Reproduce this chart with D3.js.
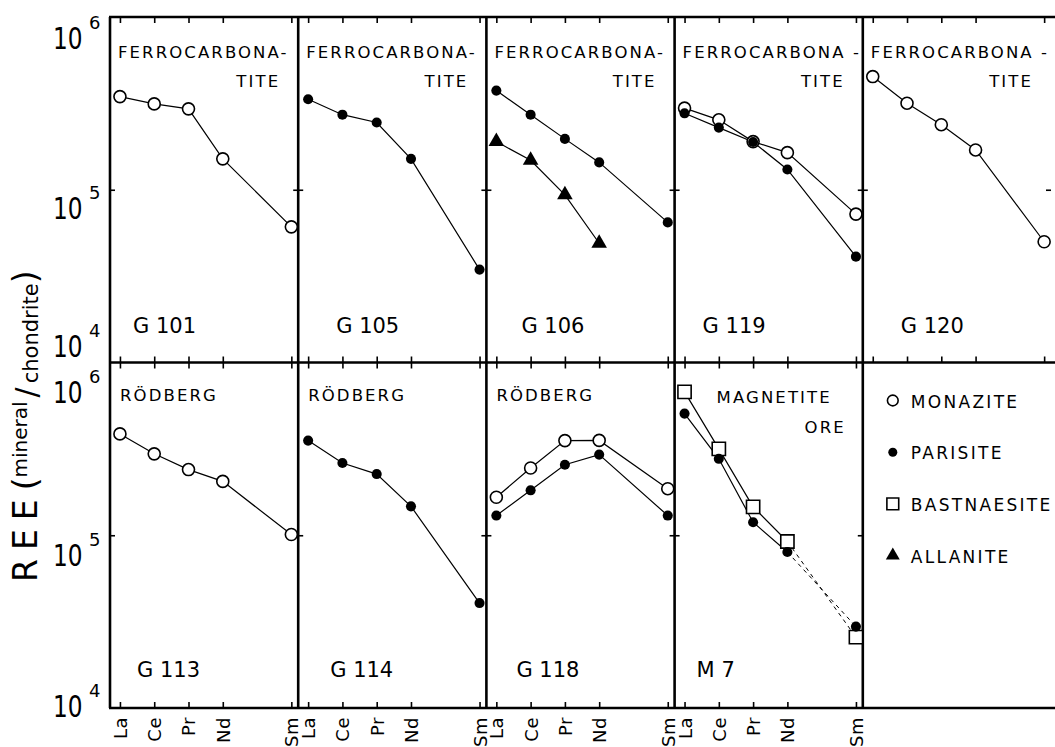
<!DOCTYPE html>
<html>
<head>
<meta charset="utf-8">
<script src="https://cdn.jsdelivr.net/npm/d3@7"></script>
<style>
  body { margin: 0; background: #fff; }
  svg text { font-family: "DejaVu Sans", sans-serif; fill: #000; }
</style>
</head>
<body>
<svg id="chart" width="1055" height="747"></svg>
<script>
// REE along the x axis; Pm is not measured, so Sm sits one step further on
var elements = ["La", "Ce", "Pr", "Nd", "Sm"];
var atomicNumbers = [57, 58, 59, 60, 62];

var sampleNames = ["G 101", "G 105", "G 106", "G 119", "G 120", "G 113", "G 114", "G 118", "M 7"];
var rockTypes = [
	["FERROCARBONA-", "TITE"], ["FERROCARBONA-", "TITE"], ["FERROCARBONA-", "TITE"],
	["FERROCARBONA -", "TITE"], ["FERROCARBONA -", "TITE"],
	["RÖDBERG"], ["RÖDBERG"], ["RÖDBERG"], ["MAGNETITE", "ORE"]
];
var mineralNames = ["MONAZITE", "PARISITE", "BASTNAESITE", "ALLANITE"];

// REE (mineral / chondrite)
var g101Monazite = [346000, 314000, 294000, 151000, 61000];
var g105Parisite = [334000, 272000, 245000, 151000, 34500];
var g106Parisite = [375000, 272000, 197000, 144000, 64700];
var g106Allanite = [190000, 148000, 93500, 49000];
var g119Monazite = [297000, 254000, 190000, 164000, 72300];
var g119Parisite = [277000, 229000, 189000, 131000, 41000];
var g120Monazite = [452000, 317000, 238000, 170000, 50000];
var g113Monazite = [386000, 296000, 240000, 205000, 101000];
var g114Parisite = [353000, 262000, 226000, 147000, 40500];
var g118Monazite = [166000, 245000, 353000, 354000, 186000];
var g118Parisite = [130000, 182000, 256000, 293000, 130000];
var m7Bastnaesite = [676000, 316000, 146000, 92000, 25700];
var m7Parisite = [506000, 277000, 119000, 80000, 29600];

var tickValues = [1e4, 1e5, 1e6];
var tickExponents = ["4", "5", "6"];

var panels = [
	{ series: [["MONAZITE", g101Monazite]] },
	{ series: [["PARISITE", g105Parisite]] },
	{ series: [["PARISITE", g106Parisite], ["ALLANITE", g106Allanite]] },
	{ series: [["MONAZITE", g119Monazite], ["PARISITE", g119Parisite]] },
	{ series: [["MONAZITE", g120Monazite]] },
	{ series: [["MONAZITE", g113Monazite]] },
	{ series: [["PARISITE", g114Parisite]] },
	{ series: [["MONAZITE", g118Monazite], ["PARISITE", g118Parisite]] },
	{ series: [["BASTNAESITE", m7Bastnaesite], ["PARISITE", m7Parisite]], dashedTail: true }
];

// layout
var plotLeft = 110, plotTop = 17, rowHeight = 345.5, colWidth = 188.2, plotRight = 1055;
var sampleDx = [23, 38, 35, 28, 38, 27, 32, 30, 22];
var tickLabelDy = [[-6, 29, 32], [9, 31, 40]];

var svg = d3.select("#chart");

var colX = function(c) { return plotLeft + c * colWidth; };
var rowY = function(r) { return plotTop + r * rowHeight; };

var x = d3.scaleLinear().domain([56.71, 62.2]).range([0, colWidth]);
var y = d3.scaleLog().domain([1e4, 1e6]).range([rowHeight, 0]);

var markerShape = {
	MONAZITE: { type: d3.symbolCircle, size: 113, fill: "#fff" },
	PARISITE: { type: d3.symbolCircle, size: 80, fill: "#000" },
	BASTNAESITE: { type: d3.symbolSquare, size: 175, fill: "#fff" },
	ALLANITE: { type: d3.symbolTriangle, size: 105, fill: "#000" }
};

function addMarker(sel, mineral, scale) {
	var m = markerShape[mineral];
	return sel.append("path")
		.attr("d", d3.symbol().type(m.type).size(m.size * (scale || 1)))
		.attr("fill", m.fill)
		.attr("stroke", "#000")
		.attr("stroke-width", m.fill == "#fff" ? 1.6 : 0);
}

//frame lines
var frame = svg.append("g").attr("stroke", "#000").attr("stroke-width", 2.6);
[0, 1, 2].forEach(function(r) {
	frame.append("line").attr("x1", plotLeft - 1).attr("x2", plotRight)
		.attr("y1", rowY(r)).attr("y2", rowY(r));
});
[0, 1, 2, 3, 4].forEach(function(c) {
	frame.append("line").attr("x1", colX(c)).attr("x2", colX(c))
		.attr("y1", plotTop).attr("y2", rowY(2));
});

var line = d3.line()
	.x(function(d) { return x(d.z); })
	.y(function(d) { return y(d.v); });

var headFont = "16.5px", headSpacing = "2.1px";

panels.forEach(function(p, i) {
	var row = i < 5 ? 0 : 1, col = i < 5 ? i : i - 5;
	var g = svg.append("g").attr("transform", "translate(" + colX(col) + "," + rowY(row) + ")");

	// ticks, no domain lines (frame draws those)
	var ticks = g.append("g").attr("class", "ticks");
	ticks.append("g").call(d3.axisBottom(x).tickValues(atomicNumbers).tickSize(6).tickFormat(""));
	ticks.append("g").attr("transform", "translate(0," + rowHeight + ")")
		.call(d3.axisTop(x).tickValues(atomicNumbers).tickSize(6).tickFormat(""));
	ticks.append("g").call(d3.axisRight(y).tickValues([1e5]).tickSize(5).tickFormat(""));
	ticks.append("g").attr("transform", "translate(" + colWidth + ",0)")
		.call(d3.axisLeft(y).tickValues([1e5]).tickSize(5).tickFormat(""));
	ticks.selectAll(".domain").remove();
	ticks.selectAll("line").attr("stroke", "#000").attr("stroke-width", 1.6);

	if (row == 1) {
		g.append("g").attr("transform", "translate(0," + rowHeight + ")")
			.call(d3.axisBottom(x).tickValues(atomicNumbers).tickSize(0)
				.tickFormat(function(d, k) { return elements[k]; }))
			.call(function(a) { a.select(".domain").remove(); })
		  .selectAll("text")
			.attr("transform", "rotate(-90)")
			.attr("x", -9)
			.attr("y", 0)
			.attr("dy", "0.36em")
			.style("text-anchor", "end")
			.style("font-size", "18px")
			.style("letter-spacing", "0.5px");
	}

	// rock type heading
	var rock = rockTypes[i];
	var head = function(tx, ty, s, anchor) {
		g.append("text").attr("x", tx).attr("y", ty)
			.attr("text-anchor", anchor || "start")
			.style("font-size", headFont).style("letter-spacing", headSpacing).text(s);
	};
	if (row == 0) {
		head(8, 41, rock[0]);
		head(colWidth - 18, 70, rock[1], "end");
	} else if (rock.length == 1) {
		head(10, 38, rock[0]);
	} else {
		head(42, 40, rock[0]);
		head(colWidth - 17, 70, rock[1], "end");
	}

	g.append("text").attr("x", sampleDx[i]).attr("y", row == 0 ? 316 : 314)
		.style("font-size", "21px").text(sampleNames[i]);

	var series = p.series.map(function(s) {
		return { mineral: s[0], pts: s[1].map(function(v, k) { return { z: atomicNumbers[k], v: v }; }) };
	});

	series.forEach(function(s) {
		var solid = p.dashedTail ? s.pts.slice(0, 4) : s.pts;
		g.append("path").attr("d", line(solid))
			.attr("fill", "none").attr("stroke", "#000").attr("stroke-width", 1.2);
		if (p.dashedTail) {
			g.append("path").attr("d", line(s.pts.slice(3)))
				.attr("fill", "none").attr("stroke", "#000").attr("stroke-width", 1)
				.attr("stroke-dasharray", "4,4");
		}
	});

	series.forEach(function(s) {
		s.pts.forEach(function(d) {
			addMarker(g, s.mineral).attr("transform", "translate(" + x(d.z) + "," + y(d.v) + ")");
		});
	});
});

// legend in the empty bottom right panel
var legend = svg.append("g").attr("transform", "translate(" + colX(4) + "," + rowY(1) + ")");
mineralNames.forEach(function(name, k) {
	var cy = 38 + k * 51.7;
	addMarker(legend, name, 0.8).attr("transform", "translate(30," + cy + ")");
	legend.append("text").attr("x", 48).attr("y", cy + 7)
		.style("font-size", "17px").style("letter-spacing", "2.3px").text(name);
});

// y tick labels 10^n
[0, 1].forEach(function(r) {
	tickValues.forEach(function(t, k) {
		var base = rowY(r) + y(t) + tickLabelDy[r][k];
		svg.append("text").attr("transform", "translate(53," + base + ") scale(0.75,1)")
			.style("font-size", "31px").text("10");
		svg.append("text").attr("x", 89).attr("y", base - 20)
			.style("font-size", "18px").text(tickExponents[k]);
	});
});

// axis title
var title = svg.append("text").attr("transform", "translate(37,582) rotate(-90)");
title.append("tspan").style("font-size", "33px").style("letter-spacing", "9px").text("REE");
title.append("tspan").style("font-size", "33px").text("(");
title.append("tspan").style("font-size", "20px").attr("dy", -10).text("mineral");
title.append("tspan").style("font-size", "30px").attr("dy", 10).attr("dx", 4).text("/");
title.append("tspan").style("font-size", "21px").attr("dy", 1).attr("dx", 4).text("chondrite");
title.append("tspan").style("font-size", "33px").attr("dy", -1).text(")");
</script>
</body>
</html>
